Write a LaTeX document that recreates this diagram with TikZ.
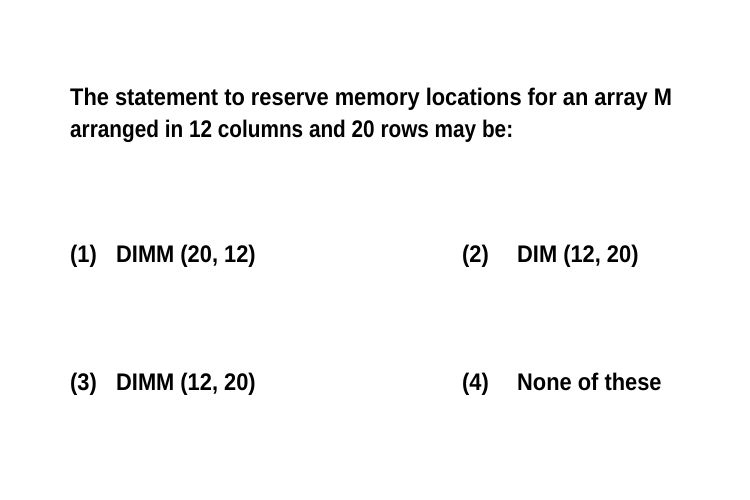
\documentclass[tikz,border=0pt]{standalone}
\usepackage{fontspec}
\setmainfont{Liberation Sans}[FakeStretch=0.91]
\newfontfamily\qfont{Liberation Sans}[FakeStretch=0.865]
\begin{document}
\begin{tikzpicture}[x=1pt,y=-1pt,
  txt/.style={anchor=base west,inner sep=0pt,font=\fontsize{24}{28}\selectfont\bfseries},
  qtxt/.style={anchor=base west,inner sep=0pt,font=\fontsize{24}{28}\selectfont\qfont\bfseries}]
\useasboundingbox (0,0) rectangle (750,500);
\fill[white] (0,0) rectangle (750,500);
\node[txt] (q1) at (70,106) {The statement to reserve memory locations for an array M};
\node[qtxt] (q2) at (70,138) {arranged in 12 columns and 20 rows may be:};
\node[txt] (n1) at (70,262) {(1)};
\node[txt] (a1) at (116,262) {DIMM (20, 12)};
\node[txt] (n2) at (462,262) {(2)};
\node[txt] (a2) at (517,262) {DIM (12, 20)};
\node[txt] (n3) at (70,390) {(3)};
\node[txt] (a3) at (116,390) {DIMM (12, 20)};
\node[txt] (n4) at (462,390) {(4)};
\node[txt] (a4) at (517,390) {None of these};
\end{tikzpicture}
\end{document}
